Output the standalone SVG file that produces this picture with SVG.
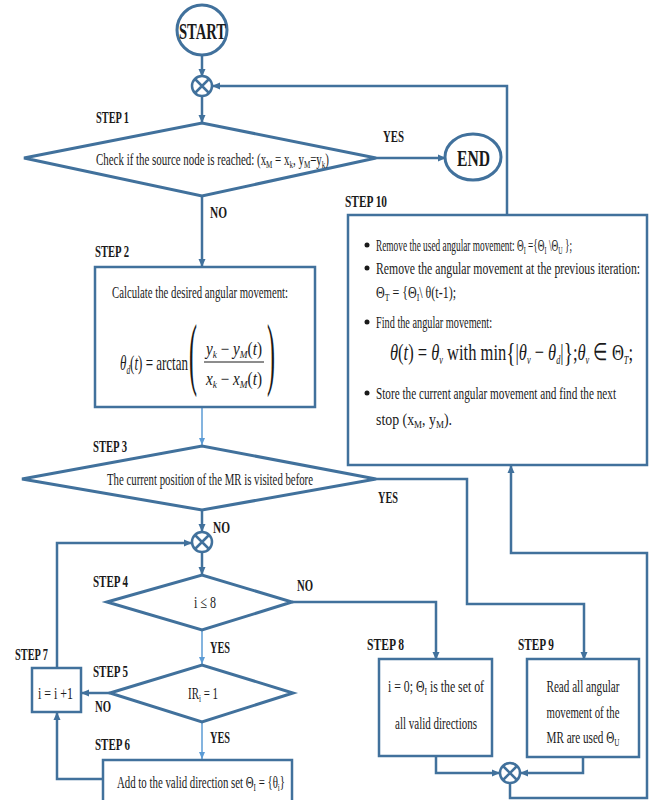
<svg xmlns="http://www.w3.org/2000/svg" width="649" height="800" viewBox="0 0 649 800" font-family="'Liberation Serif', 'Times New Roman', serif">
<style>
.sh{fill:#fff;stroke:#41719c;stroke-width:3}
.bx{fill:#fff;stroke:#41719c;stroke-width:2.5}
.c{fill:none;stroke:#41719c;stroke-width:2.5}
.cl{fill:none;stroke:#5b9bd5;stroke-width:1.5}
text{font-family:"Liberation Serif","Times New Roman",serif;fill:#1a1a1a}
.l{font-weight:bold;font-size:16px}
.t{font-size:17px}
.big{font-weight:bold;font-size:24px}
.it{font-style:italic}
.sub{font-size:11px}
</style>
<defs>
<marker id="a" markerWidth="8" markerHeight="8" refX="7" refY="4" orient="auto" markerUnits="userSpaceOnUse"><path d="M0,0.5 L8,4 L0,7.5 z" fill="#41719c"/></marker>
<marker id="al" markerWidth="8" markerHeight="8" refX="7" refY="4" orient="auto" markerUnits="userSpaceOnUse"><path d="M0,1 L7,4 L0,7 z" fill="#5b9bd5"/></marker>
</defs>

<g id="connectors">
<path class="c" d="M202,55 V76" marker-end="url(#a)"/>
<path class="c" d="M202,96 V122" marker-end="url(#a)"/>
<path class="c" d="M376,158 H445" marker-end="url(#a)"/>
<path class="c" d="M202,196 V266" marker-end="url(#a)"/>
<path class="cl" d="M202,408 V445" marker-end="url(#al)"/>
<path class="c" d="M376,479 H467 V604 H584 V659" marker-end="url(#a)"/>
<path class="c" d="M202,510 V531" marker-end="url(#a)"/>
<path class="c" d="M202,553 V574" marker-end="url(#a)"/>
<path class="c" d="M292,602 H436 V659" marker-end="url(#a)"/>
<path class="cl" d="M202,631 V664" marker-end="url(#al)"/>
<path class="c" d="M110,693 H82" marker-end="url(#a)"/>
<path class="cl" d="M202,722 V759" marker-end="url(#al)"/>
<path class="c" d="M103,779 H57 V713" marker-end="url(#a)"/>
<path class="c" d="M57,668 V543 H191" marker-end="url(#a)"/>
<path class="c" d="M436,756 V773 H499" marker-end="url(#a)"/>
<path class="c" d="M583,757 V773 H521" marker-end="url(#a)"/>
<path class="c" d="M510,783 V798 H647 V553 H511 V466" marker-end="url(#a)"/>
<path class="c" d="M507,215 V86 H213" marker-end="url(#a)"/>
</g>

<g id="start">
<ellipse class="sh" cx="202" cy="30" rx="25" ry="25"/>
<text class="big" x="179" y="39" textLength="47" lengthAdjust="spacingAndGlyphs">START</text>
</g>

<g id="junction1">
<circle class="c" cx="202" cy="86" r="10" fill="#fff"/>
<path class="c" d="M195,79 L209,93 M209,79 L195,93" stroke-width="2"/>
</g>

<g id="step1">
<text class="l" x="96" y="123" textLength="33" lengthAdjust="spacingAndGlyphs">STEP 1</text>
<polygon class="sh" points="24,158 202,123 376,158 202,196"/>
<text class="t" x="96" y="165" textLength="233" lengthAdjust="spacingAndGlyphs">Check if the source node is reached: (x<tspan class="sub" dy="3">M</tspan><tspan dy="-3"> = x</tspan><tspan class="sub" dy="3">k</tspan><tspan dy="-3">, y</tspan><tspan class="sub" dy="3">M</tspan><tspan dy="-3">=y</tspan><tspan class="sub" dy="3">k</tspan><tspan dy="-3">)</tspan></text>
<text class="l" x="383" y="142" textLength="21" lengthAdjust="spacingAndGlyphs">YES</text>
<text class="l" x="210" y="218" textLength="17" lengthAdjust="spacingAndGlyphs">NO</text>
</g>

<g id="end">
<ellipse class="sh" cx="473" cy="157" rx="28" ry="23"/>
<text class="big" x="457" y="166" textLength="33" lengthAdjust="spacingAndGlyphs">END</text>
</g>

<g id="step2">
<text class="l" x="95" y="257" textLength="34" lengthAdjust="spacingAndGlyphs">STEP 2</text>
<rect class="bx" x="95" y="267" width="220" height="140"/>
<text class="t" x="112" y="298" textLength="176" lengthAdjust="spacingAndGlyphs">Calculate the desired angular movement:</text>
<text x="120" y="370" font-size="21" textLength="68" lengthAdjust="spacingAndGlyphs"><tspan class="it">θ</tspan><tspan class="it" font-size="12" dy="4">d</tspan><tspan dy="-4">(</tspan><tspan class="it">t</tspan>) = arctan</text>
<text font-size="80" transform="translate(189,380) scale(0.3,1)">(</text>
<text x="206" y="355" font-size="18" textLength="56" lengthAdjust="spacingAndGlyphs"><tspan class="it">y</tspan><tspan class="it" font-size="11" dy="3">k</tspan><tspan dy="-3"> − </tspan><tspan class="it">y</tspan><tspan class="it" font-size="11" dy="3">M</tspan><tspan dy="-3">(</tspan><tspan class="it">t</tspan>)</text>
<line x1="204" y1="362" x2="264" y2="362" stroke="#1a1a1a" stroke-width="1"/>
<text x="206" y="385" font-size="18" textLength="56" lengthAdjust="spacingAndGlyphs"><tspan class="it">x</tspan><tspan class="it" font-size="11" dy="3">k</tspan><tspan dy="-3"> − </tspan><tspan class="it">x</tspan><tspan class="it" font-size="11" dy="3">M</tspan><tspan dy="-3">(</tspan><tspan class="it">t</tspan>)</text>
<text font-size="80" transform="translate(267,380) scale(0.3,1)">)</text>
</g>

<g id="step3">
<text class="l" x="93" y="452" textLength="34" lengthAdjust="spacingAndGlyphs">STEP 3</text>
<polygon class="sh" points="22,479 202,446 376,479 202,510"/>
<text class="t" x="107" y="485" textLength="206" lengthAdjust="spacingAndGlyphs">The current position of the MR is visited before</text>
<text class="l" x="378" y="503" textLength="20" lengthAdjust="spacingAndGlyphs">YES</text>
<text class="l" x="213" y="533" textLength="17" lengthAdjust="spacingAndGlyphs">NO</text>
</g>

<g id="junction3">
<circle class="c" cx="202" cy="542" r="10" fill="#fff"/>
<path class="c" d="M195,535 L209,549 M209,535 L195,549" stroke-width="2"/>
</g>

<g id="step4">
<text class="l" x="93" y="587" textLength="35" lengthAdjust="spacingAndGlyphs">STEP 4</text>
<polygon class="sh" points="107,602 202,575 292,602 202,630"/>
<text class="t" x="194" y="608" textLength="22" lengthAdjust="spacingAndGlyphs">i ≤ 8</text>
<text class="l" x="297" y="591" textLength="16" lengthAdjust="spacingAndGlyphs">NO</text>
<text class="l" x="210" y="653" textLength="20" lengthAdjust="spacingAndGlyphs">YES</text>
</g>

<g id="step5">
<text class="l" x="93" y="677" textLength="35" lengthAdjust="spacingAndGlyphs">STEP 5</text>
<polygon class="sh" points="110,693 202,665 293,693 202,722"/>
<text class="t" x="188" y="699" textLength="30" lengthAdjust="spacingAndGlyphs">IR<tspan class="sub" dy="3">i</tspan><tspan dy="-3"> = 1</tspan></text>
<text class="l" x="95" y="712" textLength="16" lengthAdjust="spacingAndGlyphs">NO</text>
<text class="l" x="210" y="743" textLength="20" lengthAdjust="spacingAndGlyphs">YES</text>
</g>

<g id="step6">
<text class="l" x="95" y="750" textLength="35" lengthAdjust="spacingAndGlyphs">STEP 6</text>
<rect class="bx" x="103" y="760" width="189" height="50"/>
<text class="t" x="117" y="788" textLength="168" lengthAdjust="spacingAndGlyphs">Add to the valid direction set Θ<tspan class="sub" dy="3">I</tspan><tspan dy="-3"> = {θ</tspan><tspan class="sub" dy="3">i</tspan><tspan dy="-3">}</tspan></text>
</g>

<g id="step7">
<text class="l" x="15" y="660" textLength="33" lengthAdjust="spacingAndGlyphs">STEP 7</text>
<rect class="bx" x="32" y="668" width="49" height="44"/>
<text class="t" x="38" y="699" textLength="35" lengthAdjust="spacingAndGlyphs">i = i +1</text>
</g>

<g id="step8">
<text class="l" x="367" y="650" textLength="37" lengthAdjust="spacingAndGlyphs">STEP 8</text>
<rect class="bx" x="379" y="659" width="113" height="97"/>
<text class="t" x="436" y="692" text-anchor="middle" textLength="96" lengthAdjust="spacingAndGlyphs">i = 0; Θ<tspan class="sub" dy="3">I</tspan><tspan dy="-3"> is the set of</tspan></text>
<text class="t" x="436" y="729" text-anchor="middle" textLength="82" lengthAdjust="spacingAndGlyphs">all valid directions</text>
</g>

<g id="step9">
<text class="l" x="518" y="650" textLength="36" lengthAdjust="spacingAndGlyphs">STEP 9</text>
<rect class="bx" x="527" y="659" width="112" height="98"/>
<text class="t" x="583" y="692" text-anchor="middle" textLength="73" lengthAdjust="spacingAndGlyphs">Read all angular</text>
<text class="t" x="583" y="718" text-anchor="middle" textLength="73" lengthAdjust="spacingAndGlyphs">movement of the</text>
<text class="t" x="583" y="743" text-anchor="middle" textLength="73" lengthAdjust="spacingAndGlyphs">MR are used Θ<tspan class="sub" dy="3">U</tspan></text>
</g>

<g id="junction2">
<circle class="c" cx="510" cy="773" r="10" fill="#fff"/>
<path class="c" d="M503,766 L517,780 M517,766 L503,780" stroke-width="2"/>
</g>

<g id="step10">
<text class="l" x="345" y="207" textLength="42" lengthAdjust="spacingAndGlyphs">STEP 10</text>
<rect class="bx" x="348" y="215" width="299" height="250"/>
<circle cx="367" cy="245" r="2.5" fill="#1a1a1a"/>
<text class="t" x="376" y="251" textLength="196" lengthAdjust="spacingAndGlyphs">Remove the used angular movement: Θ<tspan class="sub" dy="3">I</tspan><tspan dy="-3"> ={Θ</tspan><tspan class="sub" dy="3">I</tspan><tspan dy="-3"> \Θ</tspan><tspan class="sub" dy="3">U</tspan><tspan dy="-3"> };</tspan></text>
<circle cx="367" cy="268" r="2.5" fill="#1a1a1a"/>
<text class="t" x="376" y="274" textLength="264" lengthAdjust="spacingAndGlyphs">Remove the angular movement at the previous iteration:</text>
<text class="t" x="376" y="298" textLength="80" lengthAdjust="spacingAndGlyphs">Θ<tspan class="sub" dy="3">T</tspan><tspan dy="-3"> = {Θ</tspan><tspan class="sub" dy="3">I</tspan><tspan dy="-3">\ θ(t-1);</tspan></text>
<circle cx="367" cy="322" r="2.5" fill="#1a1a1a"/>
<text class="t" x="376" y="328" textLength="116" lengthAdjust="spacingAndGlyphs">Find the angular movement:</text>
<text x="390" y="360" font-size="24" textLength="243" lengthAdjust="spacingAndGlyphs"><tspan class="it">θ</tspan>(<tspan class="it">t</tspan>) = <tspan class="it">θ</tspan><tspan class="it" font-size="12" dy="4">v</tspan><tspan dy="-4"> with  min</tspan><tspan font-size="28" dy="2">{</tspan><tspan dy="-2">|</tspan><tspan class="it">θ</tspan><tspan class="it" font-size="12" dy="4">v</tspan><tspan dy="-4"> − </tspan><tspan class="it">θ</tspan><tspan class="it" font-size="12" dy="4">d</tspan><tspan dy="-4">|</tspan><tspan font-size="28" dy="2">}</tspan><tspan dy="-2">;</tspan><tspan class="it">θ</tspan><tspan class="it" font-size="12" dy="4">v</tspan><tspan dy="-4"> ∈ Θ</tspan><tspan class="it" font-size="12" dy="4">T</tspan><tspan dy="-4">;</tspan></text>
<circle cx="367" cy="393" r="2.5" fill="#1a1a1a"/>
<text class="t" x="376" y="399" textLength="240" lengthAdjust="spacingAndGlyphs">Store the current angular movement and find the next</text>
<text class="t" x="376" y="425" textLength="76" lengthAdjust="spacingAndGlyphs">stop (x<tspan class="sub" dy="3">M</tspan><tspan dy="-3">, y</tspan><tspan class="sub" dy="3">M</tspan><tspan dy="-3">).</tspan></text>
</g>
</svg>
